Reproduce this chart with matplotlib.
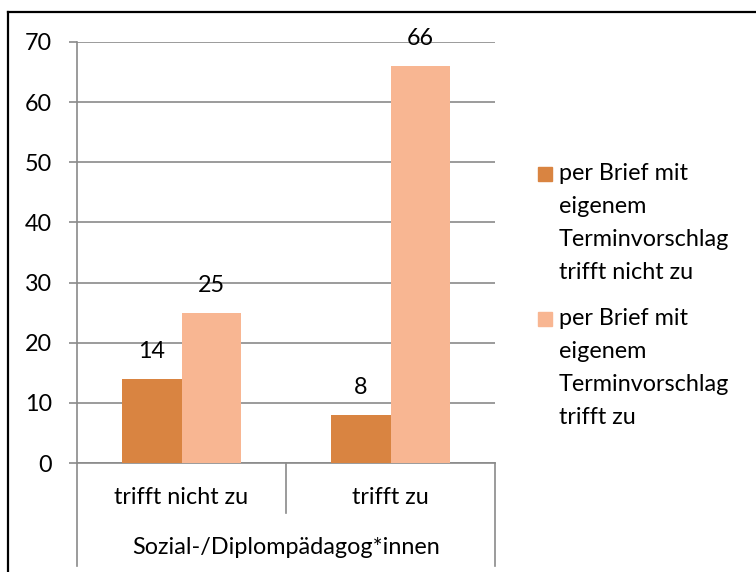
import numpy as np
import matplotlib.pyplot as plt
from matplotlib.patches import Rectangle
from matplotlib.lines import Line2D

# daten
kategorien = ['trifft nicht zu', 'trifft zu']
gruppe = 'Sozial-/Diplompädagog*innen'
serie_namen = ['per Brief mit\neigenem\nTerminvorschlag\ntrifft nicht zu',
               'per Brief mit\neigenem\nTerminvorschlag\ntrifft zu']
werte_nicht_zu = [14, 8]
werte_zu = [25, 66]
y_ticks = [0, 10, 20, 30, 40, 50, 60, 70]

farbe_dunkel = '#D98441'
farbe_hell = '#F8B692'
grau = '#8A8A8A'

plt.rcParams['font.family'] = ['Lato', 'DejaVu Sans']
fs = 16.8

fig = plt.figure(figsize=(7.56, 5.72), dpi=100)
ax = fig.add_axes([77/756, 1 - 463/572, 418/756, 421/572])

x = np.arange(len(kategorien))
w = 0.286
b1 = ax.bar(x - w/2, werte_nicht_zu, w, color=farbe_dunkel, zorder=3)
b2 = ax.bar(x + w/2, werte_zu, w, color=farbe_hell, zorder=3)

# werte ueber den balken
for bars, vals in [(b1, werte_nicht_zu), (b2, werte_zu)]:
    for r, v in zip(bars, vals):
        ax.annotate(str(v), (r.get_x() + r.get_width()/2, v), xytext=(0, 19.5),
                    textcoords='offset points', ha='center', va='center', fontsize=fs)

ax.set_xlim(-0.5, 1.5)
ax.set_ylim(0, 70)
ax.set_yticks(y_ticks)
ax.yaxis.grid(True, color=grau, linewidth=1.2, zorder=0)
ax.tick_params(axis='y', length=6, width=1.2, color=grau, labelsize=fs, pad=12)
ax.set_xticks(x)
ax.set_xticklabels([])
ax.tick_params(axis='x', length=0)
for s in ['top', 'right']:
    ax.spines[s].set_visible(False)
for s in ['left', 'bottom']:
    ax.spines[s].set_color(grau)
    ax.spines[s].set_linewidth(1.2)

# kategorien-achse mit trennlinien
tr = ax.get_xaxis_transform()
for i, k in enumerate(kategorien):
    ax.text(i, -0.081, k, transform=tr, ha='center', va='center', fontsize=fs)
ax.text(0.5, -0.2, gruppe, transform=tr, ha='center', va='center', fontsize=fs)
ax.plot([0.5, 0.5], [0, -0.119], transform=tr, color=grau, lw=1.2, clip_on=False)
for xe in [-0.5, 1.5]:
    ax.plot([xe, xe], [0, -0.245], transform=tr, color=grau, lw=1.2, clip_on=False)

# legende
for i, (name, farbe) in enumerate(zip(serie_namen, [farbe_dunkel, farbe_hell])):
    ytop = 1 - (167 + i * 145) / 572
    fig.patches.append(Rectangle((538/756, ytop - 14/572), 14/756, 14/572,
                                 transform=fig.transFigure, color=farbe))
    fig.text(559/756, 1 - (174 + i * 145) / 572 + 11/572, name, ha='left', va='top',
             fontsize=fs, linespacing=1.7)

# rahmen
fig.add_artist(Line2D([8/756, 8/756], [0, 1 - 12/572], color='black', lw=1.6))
fig.add_artist(Line2D([8/756, 1], [1 - 12/572, 1 - 12/572], color='black', lw=1.6))

fig.savefig('out.png', dpi=100)
